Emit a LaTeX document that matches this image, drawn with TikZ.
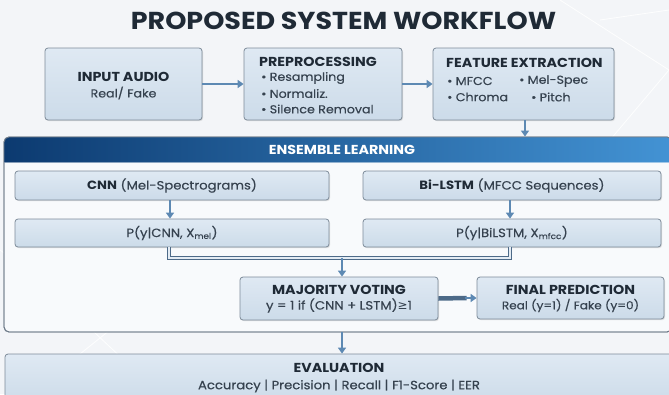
\documentclass[tikz,border=0pt]{standalone}
\usepackage{fontspec}
\setmainfont{Poppins}[FakeStretch=1.1]
\newfontfamily\bodyfont{Poppins}[FakeStretch=1.1,FakeBold=0.35]
\newfontfamily\symfont{DejaVu Sans}
\usetikzlibrary{arrows.meta,shadows}

\definecolor{bgcol}{HTML}{F3F5F8}
\definecolor{boxtop}{HTML}{DFE9F3}
\definecolor{boxbot}{HTML}{CCDBE9}
\definecolor{boxline}{HTML}{7D8B99}
\definecolor{ink}{HTML}{1F2A36}
\definecolor{inkbody}{HTML}{36424F}
\definecolor{headdark}{HTML}{0C3A70}
\definecolor{headlight}{HTML}{4393D4}
\definecolor{arrowcol}{HTML}{5D89B3}
\definecolor{pipeline}{HTML}{4D6A88}
\definecolor{pipefill}{HTML}{E4ECF4}
\definecolor{panelfill}{HTML}{F8FAFC}
\definecolor{panelline}{HTML}{6F7C8A}

\begin{document}
\begin{tikzpicture}[x=1pt,y=-1pt,
  stagebox/.style={draw=boxline,line width=0.8pt,rounded corners=3pt,
    top color=boxtop,bottom color=boxbot,inner sep=0pt,
    drop shadow={opacity=0.22,shadow xshift=1pt,shadow yshift=-1.2pt}},
  boxtitle/.style={font=\fontsize{13}{15}\selectfont\bfseries,text=ink,inner sep=0pt},
  boxtext/.style={font=\bodyfont\fontsize{11.5}{13}\selectfont,text=inkbody,inner sep=0pt},
  linetext/.style={font=\bodyfont\fontsize{12}{14}\selectfont,text=inkbody},
  flow/.style={draw=arrowcol,line width=2.4pt,-{Triangle[length=6pt,width=8pt]}},
  pipe/.style={draw=pipeline,line width=1.1pt,double=pipefill,double distance=1.8pt},
]
\useasboundingbox (0,0) rectangle (669,394);
\fill[bgcol] (0,0) rectangle (669,394);

% faint background strokes
\begin{scope}[draw=white,line width=0.8pt,opacity=0.9]
  \draw (560,0) -- (669,70) -- (610,140);
  \draw (600,20) -- (669,10);
  \draw (0,250) -- (110,330) -- (30,394);
  \draw (60,300) -- (160,394);
\end{scope}

% title
\node[font=\fontsize{24.5}{27}\selectfont\bfseries,text=ink,inner sep=0pt] (title) at (343.5,20.5) {PROPOSED SYSTEM WORKFLOW};

% top row
\node[stagebox,minimum width=157pt,minimum height=72pt] (in) at (123.5,84) {};
\node[stagebox,minimum width=158pt,minimum height=72pt] (pre) at (323,84) {};
\node[stagebox,minimum width=181pt,minimum height=72pt] (feat) at (523.5,84) {};

\node[boxtitle] (inT) at (123.5,77) {INPUT AUDIO};
\node[boxtext] (inS) at (123.5,93) {Real/ Fake};

\node[boxtitle,anchor=west] (preT) at (259,62) {PREPROCESSING};
\node[boxtext,anchor=west] (preA) at (261,78) {• Resampling};
\node[boxtext,anchor=west] (preB) at (261,93.5) {• Normaliz.};
\node[boxtext,anchor=west] (preC) at (261,109) {• Silence Removal};

\node[boxtitle,anchor=west] (featT) at (446,63) {FEATURE EXTRACTION};
\node[boxtext,anchor=west] (featA) at (447,81) {• MFCC};
\node[boxtext,anchor=west] (featB) at (519,81) {• Mel-Spec};
\node[boxtext,anchor=west] (featC) at (447,97) {• Chroma};
\node[boxtext,anchor=west] (featD) at (531,97) {• Pitch};

% ensemble panel
\node[draw=panelline,line width=0.9pt,fill=panelfill,rounded corners=5pt,
  minimum width=668pt,minimum height=195pt,inner sep=0pt] (panel) at (338,234.5) {};
\begin{scope}
  \clip[rounded corners=5pt] (4,137) rectangle (672,332);
  \shade[left color=headdark,right color=headlight] (4,137) rectangle (672,162);
  \draw[white,opacity=0.5,line width=0.8pt] (4,162) -- (672,162);
\end{scope}
\draw[panelline,line width=0.9pt,rounded corners=5pt] (4,137) rectangle (672,332);
\node[font=\fontsize{13}{15}\selectfont\bfseries,text=white,inner sep=0pt] (head) at (342,150) {ENSEMBLE LEARNING};

\node[stagebox,linetext,minimum width=314pt,minimum height=29pt] (cnn) at (172,185.5)
  {{\normalfont\bfseries\color{ink}CNN} (Mel-Spectrograms)};
\node[stagebox,linetext,minimum width=298pt,minimum height=29pt] (lstm) at (512,185.5)
  {{\normalfont\bfseries\color{ink}Bi-LSTM} (MFCC Sequences)};
\node[stagebox,linetext,minimum width=314pt,minimum height=28pt] (pcnn) at (172,233)
  {P(y|CNN, X\textsubscript{mel})};
\node[stagebox,linetext,minimum width=298pt,minimum height=28pt] (plstm) at (512,233)
  {P(y|BiLSTM, X\textsubscript{mfcc})};

\node[stagebox,minimum width=198pt,minimum height=43pt] (vote) at (339,298.5) {};
\node[boxtitle] (voteT) at (339,290) {MAJORITY VOTING};
\node[linetext,inner sep=0pt] (voteS) at (339,305.5) {y = 1 if (CNN + LSTM){\symfont ≥}1};

\node[stagebox,minimum width=187pt,minimum height=42pt] (final) at (570.5,298) {};
\node[boxtitle] (finalT) at (570.5,290) {FINAL PREDICTION};
\node[boxtext,font=\bodyfont\fontsize{11}{13}\selectfont] (finalS) at (570.5,305.5) {Real (y=1) / Fake (y=0)};

% evaluation band
\node[stagebox,minimum width=670pt,minimum height=50pt] (eval) at (340,379) {};
\node[boxtitle] (evalT) at (339,368) {EVALUATION};
\node[linetext,inner sep=0pt] (evalS) at (339,386) {Accuracy | Precision | Recall | F1-Score | EER};

% connectors
\draw[flow] (in.east) -- (pre.west);
\draw[flow] (pre.east) -- (feat.west);
\draw[flow] ([xshift=1.5pt]feat.south) -- ([xshift=1.5pt]feat.south |- panel.north);
\draw[flow,line width=2pt] ([xshift=-2pt]cnn.south) -- ([xshift=-2pt]pcnn.north);
\draw[flow,line width=2pt] ([xshift=-2pt]lstm.south) -- ([xshift=-2pt]plstm.north);
\coordinate (merge) at (342,258);
\draw[pipe] ([xshift=-3pt]pcnn.south) |- (merge) -| ([xshift=-2pt]plstm.south);
\draw[flow] (merge) -- ([xshift=3pt]vote.north);
\draw[draw=pipeline,line width=4.5pt] (vote.east) -- ([xshift=-10pt]final.west);
\draw[flow] ([xshift=-12pt]final.west) -- (final.west);
\draw[flow] ([xshift=3pt]vote.south |- panel.south) -- ([xshift=3pt]vote.south |- eval.north);
\end{tikzpicture}
\end{document}
